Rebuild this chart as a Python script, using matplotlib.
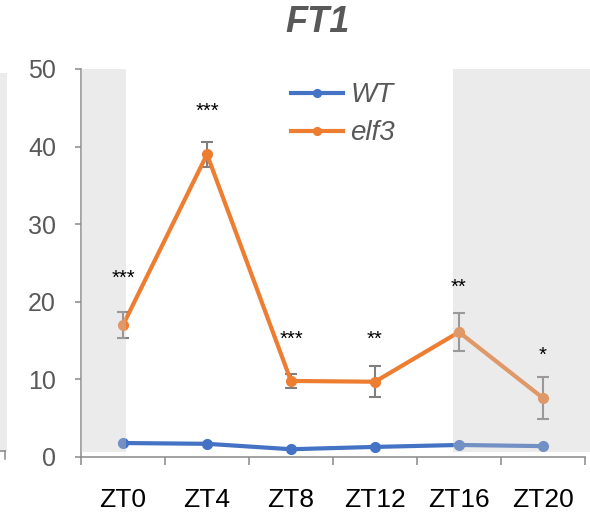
import matplotlib.pyplot as plt
from matplotlib.patches import Rectangle
from matplotlib.lines import Line2D

# FT1 expression over the day
categories = ['ZT0', 'ZT4', 'ZT8', 'ZT12', 'ZT16', 'ZT20']
wt = [1.8, 1.7, 1.0, 1.3, 1.55, 1.4]
elf3 = [17.0, 39.0, 9.8, 9.7, 16.1, 7.6]
elf3_err = [1.7, 1.65, 0.9, 2.0, 2.5, 2.75]
stars = ['***', '***', '***', '**', '**', '*']
star_y = [22.3, 43.9, 14.5, 14.5, 21.2, 12.4]

blue = '#4472C4'
orange = '#ED7D31'
grey_txt = '#595959'
spine = '#898989'

plt.rcParams['font.family'] = ['Liberation Sans', 'DejaVu Sans']

fig = plt.figure(figsize=(5.9, 5.16), dpi=100)
ax = fig.add_axes([81 / 590, 59 / 516, 509 / 590, 388 / 516])

x = list(range(len(categories)))
ax.errorbar(x, elf3, yerr=elf3_err, fmt='none', ecolor='#7F7F7F',
            elinewidth=1.5, capsize=4.5, capthick=1.5, zorder=2)
ax.plot(x, wt, color=blue, lw=3.0, marker='o', ms=7, label='WT', zorder=3)
ax.plot(x, elf3, color=orange, lw=3.0, marker='o', ms=7, label='elf3', zorder=3)

# dark periods, drawn over the lines
for x0, x1 in [(-0.5, 0.036), (3.93, 5.6)]:
    ax.add_patch(Rectangle((x0, 0.6), x1 - x0, 49.4, facecolor='#C8C8C8',
                           alpha=0.36, edgecolor='none', zorder=4))

for xi, s, ys in zip(x, stars, star_y):
    ax.text(xi, ys, s, ha='center', va='baseline', fontsize=14.5, color='black', zorder=5)

ax.set_xlim(-0.5, 5.56)
ax.set_ylim(0, 50)
ax.set_yticks(range(0, 51, 10))
ax.set_xticks(x)
ax.set_xticklabels(categories)
ax.set_xticks([i - 0.5 for i in range(len(categories) + 1)], minor=True)

for side in ['top', 'right']:
    ax.spines[side].set_visible(False)
for side in ['left', 'bottom']:
    ax.spines[side].set_color(spine)
    ax.spines[side].set_linewidth(1.1)
ax.spines['bottom'].set_bounds(-0.5, 5.5)

ax.tick_params(axis='x', which='major', length=0, pad=22, labelsize=19, labelcolor='black')
ax.tick_params(axis='x', which='minor', length=6, width=1.1, color=spine)
ax.tick_params(axis='y', length=4, width=1.1, color=spine, pad=14,
               labelsize=18, labelcolor=grey_txt)

leg = ax.legend(loc='upper left', bbox_to_anchor=(0.3625, 1.03), frameon=False,
                fontsize=20, handlelength=1.9, handletextpad=0.25,
                labelspacing=0.43, markerscale=0.8)
for t in leg.get_texts():
    t.set_color(grey_txt)
    t.set_style('italic')

fig.text(318 / 590, 1 - 22 / 516, 'FT1', ha='center', va='center', fontsize=26,
         fontweight='bold', fontstyle='italic', color=grey_txt)

# edge of the neighbouring panel
fig.add_artist(Rectangle((0, 64 / 516), 7 / 590, 379 / 516, transform=fig.transFigure,
                         facecolor='#EBEBEB', edgecolor='none'))
fig.add_artist(Line2D([0, 5 / 590], [65 / 516, 65 / 516], transform=fig.transFigure,
                      color=spine, lw=1.1))
fig.add_artist(Line2D([5 / 590, 5 / 590], [57 / 516, 65 / 516], transform=fig.transFigure,
                      color=spine, lw=1.1))

fig.savefig('out.png', dpi=100)
